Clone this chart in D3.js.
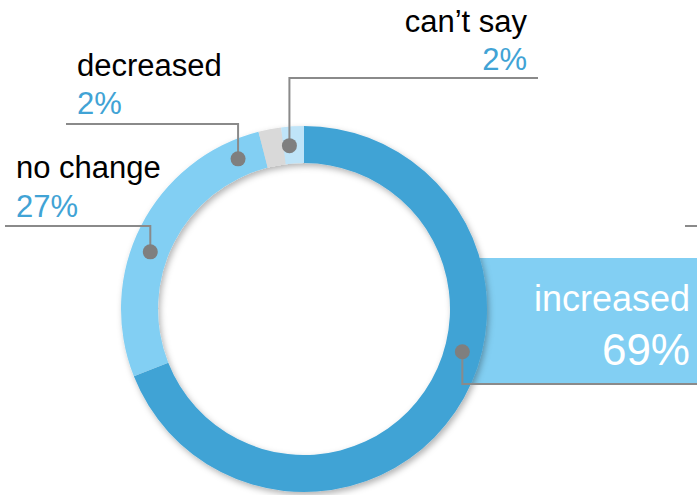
<!DOCTYPE html>
<html>
<head>
<meta charset="utf-8">
<script src="https://cdn.jsdelivr.net/npm/d3@7/dist/d3.min.js"></script>
<style>
  html, body { margin: 0; padding: 0; background: #fff; }
  svg { display: block; font-family: "Liberation Sans", Arial, sans-serif; }
</style>
</head>
<body>
<svg id="chart" width="697" height="495"></svg>
<script>
// Survey answers, clockwise from 12 o'clock
const categories = ["increased", "no change", "decreased", "can\u2019t say"];
const shares = [69, 27, 2, 2];
const percentLabels = ["69%", "27%", "2%", "2%"];
const segmentColors = ["#41a3d5", "#82cff3", "#d9d9d9", "#bfe4f8"];

// Callout layout: angle (deg) of the marker on the ring, y of the leader's
// horizontal run, x where that run ends, and where the label text sits.
const callouts = [
  { angle: 105.1, lineY: 384, lineEnd: 697, textX: 690, nameY: 311, pctY: 365, anchor: "end", boxed: true },
  { angle: 290.4, lineY: 226, lineEnd: 5,   textX: 16,  nameY: 178, pctY: 217, anchor: "start" },
  { angle: 336.3, lineY: 124, lineEnd: 66,  textX: 77,  nameY: 76,  pctY: 114, anchor: "start" },
  { angle: 354.9, lineY: 78,  lineEnd: 538, textX: 527, nameY: 32,  pctY: 70,  anchor: "end" }
];

const width = 697, height = 495;
const cx = 304, cy = 309;
const outerR = 183, innerR = 146, markerR = 164;

const svg = d3.select("#chart");

const defs = svg.append("defs");
const shadow = defs.append("filter").attr("id", "ringShadow")
  .attr("x", "-20%").attr("y", "-20%").attr("width", "140%").attr("height", "140%");
shadow.append("feDropShadow")
  .attr("dx", 2).attr("dy", 3).attr("stdDeviation", 3)
  .attr("flood-color", "#000").attr("flood-opacity", 0.3);

// Highlight box behind the "increased" label; its left edge tucks under the ring
const boxed = callouts.find(c => c.boxed);
const boxLeft = 462, boxTop = 258;
svg.append("rect")
  .attr("x", boxLeft).attr("y", boxTop)
  .attr("width", width - boxLeft).attr("height", boxed.lineY - boxTop)
  .attr("fill", "#82cff3");

// Donut ring
const pie = d3.pie().sort(null).value(d => d)
  .startAngle(0).endAngle(2 * Math.PI);
const arc = d3.arc().innerRadius(innerR).outerRadius(outerR);

const ring = svg.append("g")
  .attr("transform", `translate(${cx},${cy})`)
  .attr("filter", "url(#ringShadow)");
ring.selectAll("path")
  .data(pie(shares))
  .join("path")
  .attr("d", arc)
  .attr("fill", (d, i) => segmentColors[i]);

// Leader lines and markers
const toRad = d3.scaleLinear().domain([0, 360]).range([0, 2 * Math.PI]);
const leaders = svg.append("g");
callouts.forEach((c, i) => {
  const [px, py] = d3.pointRadial(toRad(c.angle), markerR);
  const x = cx + px, y = cy + py;
  leaders.append("path")
    .attr("d", `M${x},${y}V${c.lineY}H${c.lineEnd}`)
    .attr("fill", "none")
    .attr("stroke", "#8a8a8a")
    .attr("stroke-width", 2);
  leaders.append("circle")
    .attr("cx", x).attr("cy", y).attr("r", 7.5)
    .attr("fill", "#7f7f7f");
});

// Stub of a leader running off the right edge
leaders.append("line")
  .attr("x1", 685).attr("x2", width).attr("y1", 226).attr("y2", 226)
  .attr("stroke", "#8a8a8a").attr("stroke-width", 2);

// Labels
const labels = svg.append("g");
callouts.forEach((c, i) => {
  labels.append("text")
    .attr("x", c.textX).attr("y", c.nameY)
    .attr("text-anchor", c.anchor)
    .attr("font-size", c.boxed ? 36 : 31)
    .attr("fill", c.boxed ? "#ffffff" : "#000000")
    .text(categories[i]);
  labels.append("text")
    .attr("x", c.textX).attr("y", c.pctY)
    .attr("text-anchor", c.anchor)
    .attr("font-size", c.boxed ? 44 : 31)
    .attr("fill", c.boxed ? "#ffffff" : "#41a3d5")
    .text(percentLabels[i]);
});
</script>
</body>
</html>
